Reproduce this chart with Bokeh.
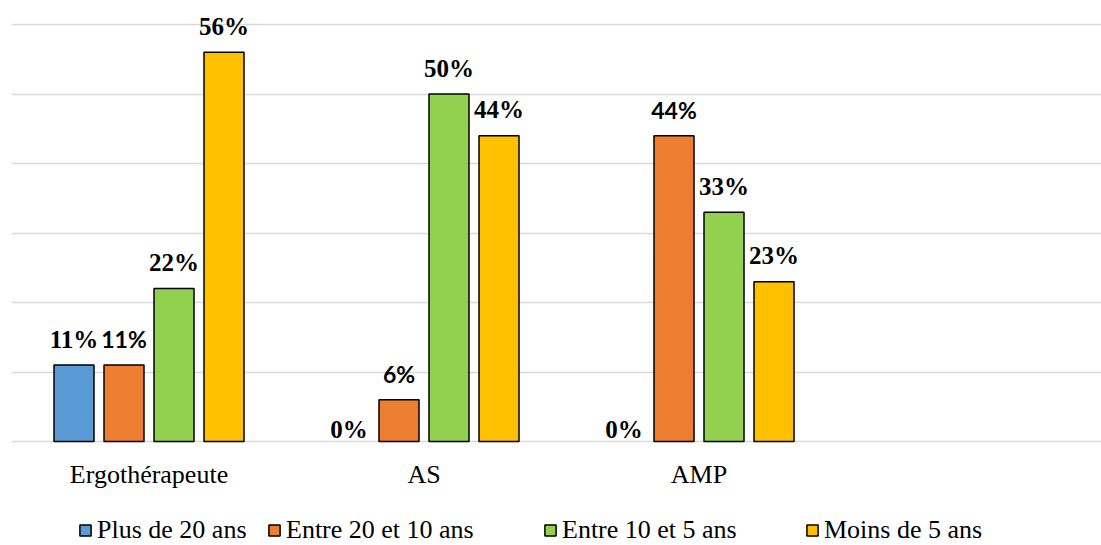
from bokeh.plotting import figure
from bokeh.models import ColumnDataSource, Range1d, FixedTicker, Legend, LegendItem
from bokeh.core.properties import value
from bokeh.embed import file_html
from bokeh.resources import INLINE

# ---- data ----
categories = ["Ergothérapeute", "AS", "AMP"]
series_names = ["Plus de 20 ans", "Entre 20 et 10 ans", "Entre 10 et 5 ans", "Moins de 5 ans"]
plus_20 = [11, 0, 0]
entre_20_10 = [11, 6, 44]
entre_10_5 = [22, 50, 33]
moins_5 = [56, 44, 23]
y_ticks = [0, 10, 20, 30, 40, 50, 60]

series_values = [plus_20, entre_20_10, entre_10_5, moins_5]
colors = ["#5B9BD5", "#ED7D31", "#92D050", "#FFC000"]
label_fonts = ["Liberation Serif", "Lato", "Liberation Serif", "Liberation Serif"]
label_sizes = ["25px", "23px", "25px", "25px"]
legend_x = [67, 256, 532, 794]   # legend item offsets (layout, px from frame left)

W, H = 1101, 545
SLOT_PX = 275.0
LEFT, TOP = 11, 8
PX_PER_UNIT = 6.95
ZERO_Y = 441
FRAME_W = W - LEFT
FRAME_H = H - TOP
y_end = (ZERO_Y - TOP) / PX_PER_UNIT
y_start = y_end - FRAME_H / PX_PER_UNIT

p = figure(width=W, height=H, output_backend="svg", toolbar_location=None,
           x_range=Range1d(-0.5, -0.5 + FRAME_W / SLOT_PX), y_range=Range1d(y_start, y_end),
           min_border_left=LEFT, min_border_right=0, min_border_top=TOP, min_border_bottom=0)
p.outline_line_color = None
p.background_fill_color = "white"
p.xaxis.visible = False
p.yaxis.visible = False
p.xgrid.visible = False
p.ygrid.ticker = FixedTicker(ticks=y_ticks)
p.ygrid.grid_line_color = "#D9D9D9"
p.ygrid.grid_line_width = 1.5

step = 50.0 / SLOT_PX
bw = 40.0 / SLOT_PX
n = len(series_names)

for si, (name, vals, col, fnt, fs) in enumerate(zip(series_names, series_values, colors, label_fonts, label_sizes)):
    xs = [ci + (si - (n - 1) / 2) * step for ci in range(len(categories))]
    bx = [x for x, v in zip(xs, vals) if v > 0]
    bv = [v for v in vals if v > 0]
    src = ColumnDataSource(dict(x=bx, top=bv))
    r = p.vbar(x="x", top="top", width=bw, bottom=0, source=src,
               fill_color=col, line_color="black", line_width=1.5)
    lsrc = ColumnDataSource(dict(
        x=xs, y=vals, t=[f"{v}%" for v in vals],
        off=[-26 if v > 0 else -12 for v in vals]))
    p.text(x="x", y="y", text="t", source=lsrc, y_offset="off",
           text_align="center", text_baseline="alphabetic",
           text_font=value(fnt), text_font_style="bold", text_font_size=fs,
           text_color="black")
    lg = Legend(items=[LegendItem(label=name, renderers=[r])], orientation="horizontal",
                location=(legend_x[si], 0), padding=0, margin=0,
                glyph_width=14, glyph_height=14, label_standoff=5,
                label_text_font="Liberation Serif", label_text_font_size="26px",
                label_text_color="black", border_line_color=None,
                background_fill_alpha=0, label_height=30)
    p.add_layout(lg, "center")

# category labels (x axis)
csrc = ColumnDataSource(dict(x=list(range(len(categories))), y=[0] * len(categories), t=categories))
p.text(x="x", y="y", text="t", source=csrc, y_offset=33,
       text_align="center", text_baseline="middle",
       text_font=value("Liberation Serif"), text_font_size="26px", text_color="black")

open("out.html", "w").write(file_html(p, INLINE))
